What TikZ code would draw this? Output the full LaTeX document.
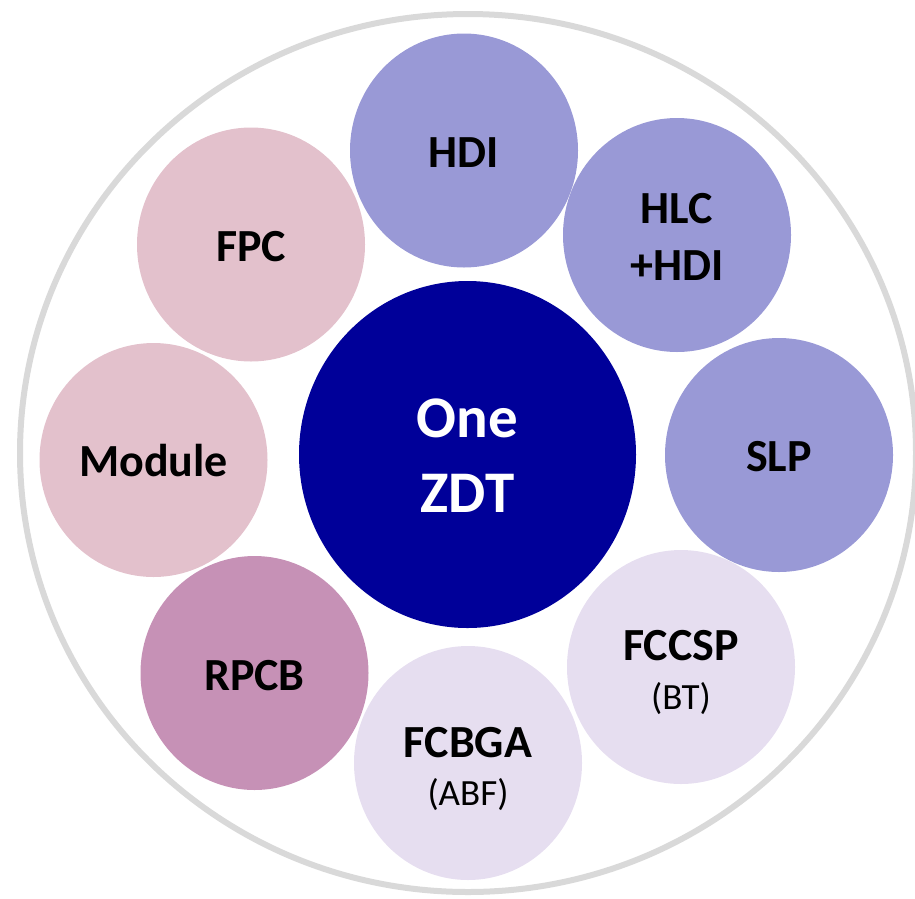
\documentclass[tikz,border=0pt]{standalone}
\usepackage{fontspec}
\setmainfont{Carlito}
\usetikzlibrary{shapes.geometric}
\definecolor{ringgrey}{HTML}{D9D9D9}
\definecolor{navy}{HTML}{000099}
\definecolor{lav}{HTML}{9999D6}
\definecolor{pale}{HTML}{E6DEF0}
\definecolor{mauve}{HTML}{C691B6}
\definecolor{pinkish}{HTML}{E3C1CC}
\tikzset{
  bubble/.style={ellipse, minimum width=228pt, minimum height=234pt, inner sep=0pt, draw=none},
  lab/.style={anchor=base, inner sep=0pt, font=\fontsize{46}{50}\selectfont\bfseries, text=black},
  sublab/.style={anchor=base, inner sep=0pt, font=\fontsize{37}{40}\selectfont, text=black},
  biglab/.style={anchor=base, inner sep=0pt, font=\fontsize{59}{64}\selectfont\bfseries, text=white}
}
\begin{document}
\begin{tikzpicture}[x=1pt,y=-1pt]
\useasboundingbox (0,0) rectangle (915,898);
\node[ellipse, draw=ringgrey, line width=6pt, minimum width=896pt, minimum height=878pt, inner sep=0pt] (ring) at (468,453) {};
\node[ellipse, fill=navy, minimum width=337pt, minimum height=347pt, inner sep=0pt] (core) at (467.5,454.5) {};
\node[bubble, fill=lav] (hdi) at (464,150.5) {};
\node[bubble, fill=lav] (hlc) at (677,235) {};
\node[bubble, fill=lav] (slp) at (779,455) {};
\node[bubble, fill=pale] (fccsp) at (681,667) {};
\node[bubble, fill=pale] (fcbga) at (468,763) {};
\node[bubble, fill=mauve] (rpcb) at (254.5,673) {};
\node[bubble, fill=pinkish] (module) at (153.5,460) {};
\node[bubble, fill=pinkish] (fpc) at (251,244.5) {};
% labels
\node[biglab] (t-one) at (467.5,437) {One};
\node[biglab] (t-zdt) at (467.5,512) {ZDT};
\node[lab] (t-hdi) at (464,167) {HDI};
\node[lab] (t-hlc) at (677,223) {HLC};
\node[lab] (t-hlc2) at (677,280.5) {+HDI};
\node[lab] (t-slp) at (779,471) {SLP};
\node[lab] (t-fccsp) at (681,660.5) {FCCSP};
\node[sublab] (t-bt) at (681,709) {(BT)};
\node[lab] (t-fcbga) at (468,757) {FCBGA};
\node[sublab] (t-abf) at (468,805) {(ABF)};
\node[lab] (t-rpcb) at (254.5,690) {RPCB};
\node[lab] (t-module) at (153.5,476) {Module};
\node[lab] (t-fpc) at (251,261.5) {FPC};
\end{tikzpicture}
\end{document}
